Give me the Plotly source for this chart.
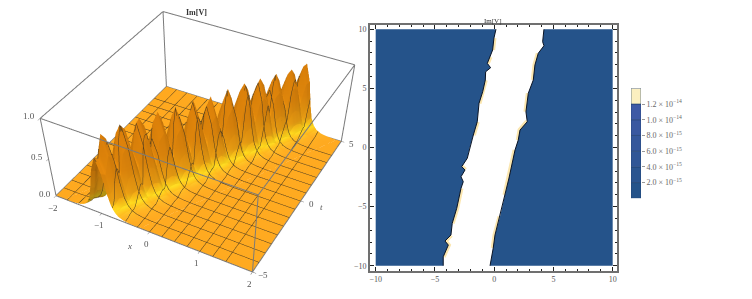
import plotly.graph_objects as go

SERIF = "Liberation Serif"
GREY = "#555555"
# the page has an 8px body margin; the figure runs past the window bottom so the
# 3d view can be big with a weak perspective, everything is placed in window pixels
W = 744
H = 600


def fx(px):
    return (px - 8) / W


def fy(py):
    return 1 - (py - 8) / H


# left panel: ridge of Im[V] read along t
t_vals = [-5.0, -4.8, -4.6, -4.4, -4.2, -4.0, -3.8, -3.6, -3.4, -3.2, -3.0, -2.8, -2.6,
          -2.4, -2.2, -2.0, -1.8, -1.6, -1.4, -1.2, -1.0, -0.8, -0.6, -0.4, -0.2, 0.0,
          0.2, 0.4, 0.6, 0.8, 1.0, 1.2, 1.4, 1.6, 1.8, 2.0, 2.2, 2.4, 2.6, 2.8, 3.0,
          3.2, 3.4, 3.6, 3.8, 4.0, 4.2, 4.4, 4.6, 4.8, 5.0]
ridge_x = [-1.0, -0.96, -0.92, -0.88, -0.83, -0.79, -0.75, -0.71, -0.67, -0.62, -0.58,
           -0.54, -0.5, -0.46, -0.41, -0.37, -0.33, -0.29, -0.25, -0.2, -0.16, -0.12,
           -0.08, -0.04, 0.01, 0.05, 0.09, 0.13, 0.17, 0.22, 0.26, 0.3, 0.34, 0.38, 0.43,
           0.47, 0.51, 0.55, 0.59, 0.64, 0.68, 0.72, 0.76, 0.8, 0.85, 0.89, 0.93, 0.97,
           1.01, 1.06, 1.1]
crest_z = [0.74, 0.7, 0.98, 0.9, 0.58, 0.92, 1.0, 0.92, 0.56, 0.92, 0.99, 0.88, 0.5,
           0.88, 0.98, 0.84, 0.5, 0.86, 0.95, 0.78, 0.46, 0.82, 0.95, 0.78, 0.46, 0.82,
           0.92, 0.74, 0.46, 0.82, 0.93, 0.8, 0.5, 0.84, 0.92, 0.82, 0.52, 0.82, 0.9,
           0.8, 0.52, 0.82, 0.88, 0.78, 0.52, 0.82, 0.86, 0.78, 0.52, 0.84, 0.86]
cross_offset = [-0.8, -0.6, -0.46, -0.36, -0.29, -0.23, -0.17, -0.1, 0.0,
                0.1, 0.17, 0.23, 0.29, 0.36, 0.46, 0.6, 0.8]
cross_shape = [0.0, 0.008, 0.025, 0.06, 0.12, 0.22, 0.42, 0.75, 1.0,
               0.75, 0.42, 0.22, 0.12, 0.06, 0.025, 0.008, 0.0]
box_x = [-2, 2]
box_t = [-5, 5]
box_z = [0, 1]
x_ticks = [-2, -1, 0, 1, 2]
t_ticks = [-5, 0, 5]
z_ticks = [0, 0.5, 1]
x_tick_text = ["−2", "−1", "0", "1", "2"]
t_tick_text = ["−5", "0", "5"]
z_tick_text = ["0.0", "0.5", "1.0"]

# right panel: edges of the white band
left_edge_x = [0.15, -0.02, -0.13, -0.35, -0.58, -0.3, -0.72, -0.75, -0.97, -1.28, -1.43, -1.76,
               -2.04, -2.27, -2.74, -2.46, -2.8, -2.61, -2.8, -3.16, -3.54, -3.65, -4.15, -3.87,
               -4.3, -4.3]
left_edge_t = [10, 9.26, 8.25, 7.68, 7.12, 6.75, 6.41, 5.71, 4.72, 3.74, 2.18, 1.06,
               0.07, -0.91, -1.62, -1.9, -2.47, -2.89, -3.45, -5.14, -6.41, -7.4, -7.91, -8.25,
               -9.24, -10]
right_edge_x = [4.2, 4.09, 4.2, 3.72, 3.44, 3.3, 2.88, 2.68, 2.79, 2.18, 2.03, 1.76,
                1.25, 0.91, 0.49, 0.07, -0.08, -0.35]
right_edge_t = [10, 8.95, 8.61, 7.97, 6.98, 5.71, 4.59, 3.03, 2.18, 1.48, 0.63, -0.21,
                -2.58, -4.02, -5.85, -7.4, -8.5, -10]
left_cream = [(1, 2), (3, 4), (7, 9), (10, 11), (14, 15), (18, 20), (21, 24)]
right_cream = [(3, 5), (6, 7), (8, 10), (11, 13), (14, 16)]

# legend bar
bar_levels = [0, 2e-15, 4e-15, 6e-15, 8e-15, 1.0e-14, 1.2e-14, 1.4e-14]
bar_colors = ["#25538a", "#2b5590", "#305696", "#35579b", "#3a58a0", "#3e59a5", "#fbefc0"]
bar_ticks = [2e-15, 4e-15, 6e-15, 8e-15, 1.0e-14, 1.2e-14]
bar_labels = ["2.0 × 10<sup>−15</sup>", "4.0 × 10<sup>−15</sup>", "6.0 × 10<sup>−15</sup>",
              "8.0 × 10<sup>−15</sup>", "1.0 × 10<sup>−14</sup>", "1.2 × 10<sup>−14</sup>"]

x_mesh = [[box_x[0]] + [r + o for o in cross_offset] + [box_x[1]] for r in ridge_x]
z_mesh = [[0.0] + [c * s for s in cross_shape] + [0.0] for c in crest_z]
t_mesh = [[t] * (len(cross_offset) + 2) for t in t_vals]

fig = go.Figure()

fig.add_trace(go.Surface(
    x=x_mesh, y=t_mesh, z=z_mesh, showscale=False, cmin=0, cmax=1,
    colorscale=[[0, "#f29a10"], [0.03, "#f7a814"], [0.1, "#ffd81c"], [0.22, "#f9a814"],
                [0.5, "#f0900c"], [1, "#e8860a"]],
    lighting=dict(ambient=0.68, diffuse=0.5, specular=0.08, roughness=0.6, fresnel=0.0),
    lightposition=dict(x=1500, y=-2000, z=1200),
    contours=dict(
        x=dict(show=True, start=-1.75, end=1.75, size=0.25, color="#4a3a20", width=1),
        y=dict(show=True, start=-4.375, end=4.375, size=0.625, color="#4a3a20", width=1),
    ),
    hoverinfo="skip"))

# box edges
edge_line = dict(color="#7a7a7a", width=2)
for a in box_t:
    for b in box_z:
        fig.add_trace(go.Scatter3d(x=box_x, y=[a, a], z=[b, b], mode="lines",
                                   line=edge_line, showlegend=False))
for a in box_x:
    for b in box_z:
        fig.add_trace(go.Scatter3d(x=[a, a], y=box_t, z=[b, b], mode="lines",
                                   line=edge_line, showlegend=False))
for a in box_x:
    for b in box_t:
        fig.add_trace(go.Scatter3d(x=[a, a], y=[b, b], z=box_z, mode="lines",
                                   line=edge_line, showlegend=False))

# tick labels and axis names of the box
label_font = dict(family=SERIF, size=9, color=GREY)
box_labels = []
for v, txt in zip(x_ticks, x_tick_text):
    box_labels.append(dict(x=v, y=-5, z=0, text=txt, showarrow=False, font=label_font,
                           xshift=-3, yshift=-12))
for v, txt in zip(t_ticks, t_tick_text):
    box_labels.append(dict(x=2, y=v, z=0, text=txt, showarrow=False, font=label_font,
                           xshift=11, yshift=-3))
for v, txt in zip(z_ticks, z_tick_text):
    box_labels.append(dict(x=-2, y=-5, z=v, text=txt, showarrow=False, font=label_font,
                           xshift=-11, yshift=2))
box_labels.append(dict(x=-0.3, y=-5, z=0, text="<i>x</i>", showarrow=False, font=label_font,
                       xshift=-5, yshift=-20))
box_labels.append(dict(x=2, y=0.4, z=0, text="<i>t</i>", showarrow=False, font=label_font,
                       xshift=18, yshift=-11))


def axis3d(ticks):
    return dict(title=dict(text=""), tickvals=ticks, showticklabels=False,
                showgrid=False, zeroline=False, showbackground=False, showline=False,
                ticks="outside", ticklen=3, tickcolor="#777777", showspikes=False)


# contour regions of the right panel
cream_x, cream_t = [], []
for edge_x, edge_t, parts in [(left_edge_x, left_edge_t, left_cream),
                              (right_edge_x, right_edge_t, right_cream)]:
    for i, j in parts:
        cream_x += edge_x[i:j + 1] + [None]
        cream_t += edge_t[i:j + 1] + [None]
fig.add_trace(go.Scatter(x=cream_x, y=cream_t, mode="lines", xaxis="x", yaxis="y",
                         line=dict(color="#fbe6ae", width=5), showlegend=False))

fig.add_trace(go.Scatter(x=[-10] + left_edge_x + [-10], y=[10] + left_edge_t + [-10],
                         mode="none", fill="toself", fillcolor="#25538a", showlegend=False))
fig.add_trace(go.Scatter(x=[10] + right_edge_x + [10], y=[10] + right_edge_t + [-10],
                         mode="none", fill="toself", fillcolor="#25538a", showlegend=False))
fig.add_trace(go.Scatter(x=left_edge_x, y=left_edge_t, mode="lines",
                         line=dict(color="#0b1424", width=1), showlegend=False))
fig.add_trace(go.Scatter(x=right_edge_x, y=right_edge_t, mode="lines",
                         line=dict(color="#0b1424", width=1), showlegend=False))

# legend bar
for i, col in enumerate(bar_colors):
    fig.add_trace(go.Bar(x=[0], y=[bar_levels[i + 1] - bar_levels[i]], base=bar_levels[i],
                         width=1, xaxis="x2", yaxis="y2", showlegend=False,
                         marker=dict(color=col, line=dict(color="#20406f", width=0.6))))

frame = dict(showline=True, linecolor="#707070", linewidth=2, mirror="ticks", showgrid=False,
             zeroline=False, ticks="inside", ticklen=4, tickcolor="#222222", tickwidth=1,
             tickvals=[-10, -5, 0, 5, 10], ticktext=["−10", "−5", "0", "5", "10"],
             tickfont=dict(family=SERIF, size=8, color=GREY),
             minor=dict(dtick=1, ticks="inside", ticklen=2, tickcolor="#222222"))

fig.update_layout(
    width=W, height=H, margin=dict(l=0, r=0, t=0, b=0),
    paper_bgcolor="white", plot_bgcolor="white", barmode="overlay",
    scene=dict(
        domain=dict(x=[0, fx(400)], y=[0, 1]),
        aspectmode="manual", aspectratio=dict(x=1, y=1, z=0.42),
        camera=dict(eye=dict(x=1.3, y=-2.4, z=2.0), center=dict(x=0, y=0, z=-1.25)),
        xaxis=dict(axis3d(x_ticks), range=box_x),
        yaxis=dict(axis3d(t_ticks), range=box_t),
        zaxis=dict(axis3d(z_ticks), range=box_z),
        annotations=box_labels,
    ),
    xaxis=dict(frame, domain=[fx(370), fx(617.3)], range=[-10.48, 10.39]),
    yaxis=dict(frame, domain=[fy(270.7), fy(24.7)], range=[-10.42, 10.39]),
    xaxis2=dict(domain=[fx(631), fx(641)], range=[-0.5, 0.5], visible=False, anchor="y2"),
    yaxis2=dict(domain=[fy(198.3), fy(88.3)], range=[0, 1.4e-14], anchor="free", position=fx(641),
                side="right", showgrid=False, zeroline=False, showline=False, ticks="outside",
                ticklen=3, tickcolor="#999999", tickvals=bar_ticks, ticktext=bar_labels,
                tickfont=dict(family=SERIF, size=8, color="#666666")),
)
fig.add_annotation(text="<b>Im[V]</b>", x=fx(196), y=fy(13), xref="paper", yref="paper",
                   xanchor="center", yanchor="middle", showarrow=False,
                   font=dict(family=SERIF, size=8, color="#333333"))
fig.add_annotation(text="Im[V]", x=fx(493), y=fy(20.5), xref="paper", yref="paper",
                   xanchor="center", yanchor="middle", showarrow=False,
                   font=dict(family=SERIF, size=7, color="#333333"))

fig.write_html("out.html")
